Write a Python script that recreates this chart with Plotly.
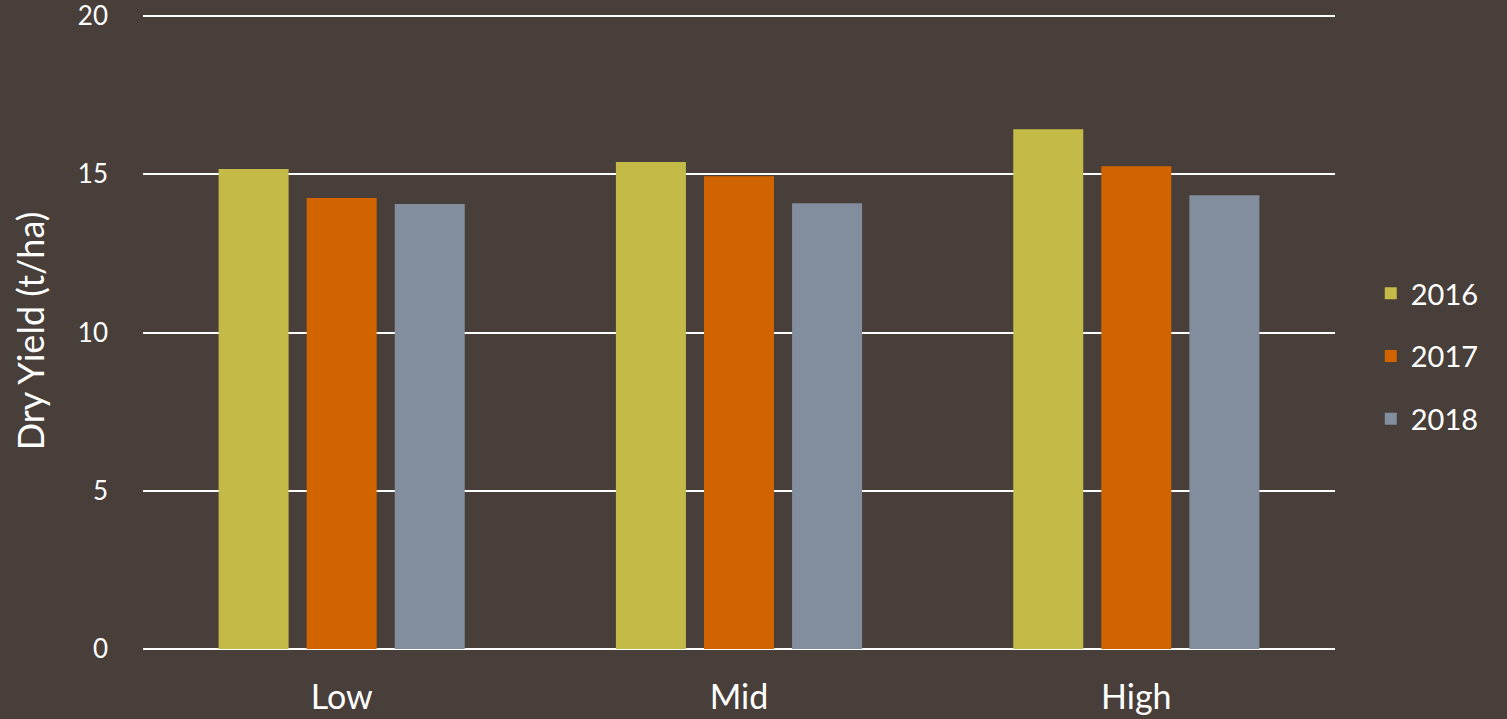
import plotly.graph_objects as go

categories = ["Low", "Mid", "High"]
years = ["2016", "2017", "2018"]
yield_2016 = [15.17, 15.39, 16.43]
yield_2017 = [14.25, 14.94, 15.26]
yield_2018 = [14.06, 14.09, 14.34]
colors = ["#C4BA48", "#D26400", "#828E9E"]
tick_vals = [0, 5, 10, 15, 20]

bg = "#483E3A"
font_family = "Lato, 'Open Sans', sans-serif"

fig = go.Figure()
for name, vals, col in zip(years, [yield_2016, yield_2017, yield_2018], colors):
    fig.add_trace(go.Bar(x=categories, y=vals, name=name, marker=dict(color=col, line=dict(width=0)),
                         legendgroup=name))

fig.update_layout(
    width=1507, height=719,
    paper_bgcolor=bg, plot_bgcolor=bg,
    margin=dict(l=143, r=172, t=13, b=70),
    barmode="group", bargap=0.335, bargroupgap=0.205,
    font=dict(family=font_family, color="white"),
    legend=dict(x=1.03, y=0.46, xanchor="left", yanchor="middle",
                font=dict(size=29, color="white"), tracegroupgap=22,
                bgcolor="rgba(0,0,0,0)"),
    xaxis=dict(showgrid=False, showline=False, zeroline=False, automargin=False,
               tickfont=dict(size=34, color="white"), ticklabelstandoff=25),
    yaxis=dict(range=[0, 20.1], tickvals=tick_vals, showgrid=True, gridcolor="white", gridwidth=1.5,
               zeroline=True, zerolinecolor="white", zerolinewidth=1.5, automargin=False,
               ticklabeloverflow="allow",
               tickfont=dict(size=26, color="white"), ticklabelstandoff=34,
               title=dict(text="Dry Yield (t/ha)", font=dict(size=36, color="white"), standoff=22)),
)

fig.write_html("out.html")
